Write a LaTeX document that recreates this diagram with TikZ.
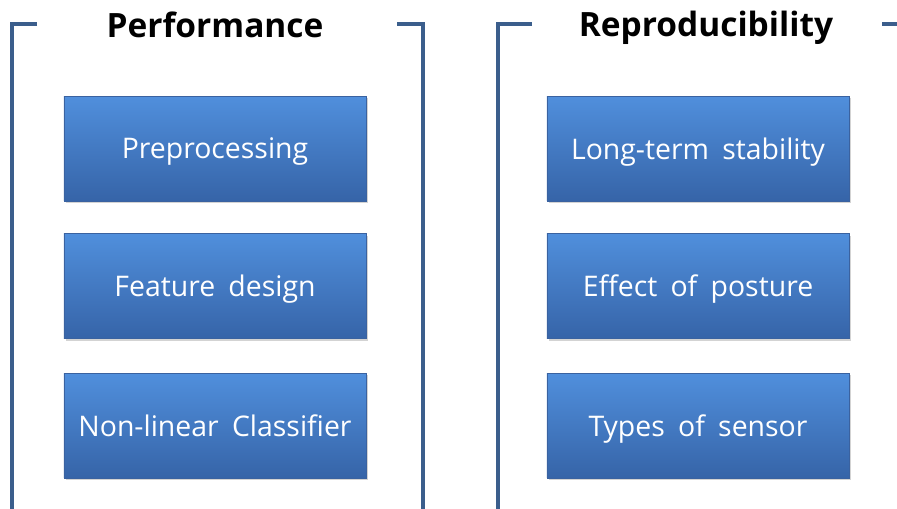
\documentclass[tikz,border=0pt]{standalone}
\usepackage{fontspec}
\setmainfont{Open Sans}[WordSpace=1.8]
\usepackage{tikz}
\usetikzlibrary{positioning,shadows}

\definecolor{bracketblue}{RGB}{59,94,140}
\definecolor{boxtop}{RGB}{80,143,220}
\definecolor{boxbottom}{RGB}{54,100,168}
\definecolor{boxedge}{RGB}{58,98,160}

\begin{document}
\begin{tikzpicture}[x=0.025cm, y=-0.025cm,
		bracket/.style={line width=2.8pt, bracketblue},
		heading/.style={font=\fontsize{23.8}{28}\selectfont\bfseries, text=black},
		item/.style={minimum width=7.55cm, minimum height=2.62cm, inner sep=0pt,
			top color=boxtop, bottom color=boxbottom, draw=boxedge, line width=0.5pt,
			drop shadow={shadow xshift=1.2pt, shadow yshift=-1.6pt, opacity=0.35},
			text=white, text depth=0pt, font=\fontsize{20.2}{24}\selectfont}]
		\useasboundingbox (0, 0) rectangle (897, 508);

		% 括号
		\draw[bracket] (37, 24) -- (12, 24) -- (12, 512);
		\draw[bracket] (397, 24) -- (423, 24) -- (423, 512);
		\draw[bracket] (532, 24) -- (498, 24) -- (498, 512);
		\draw[bracket] (882, 24) -- (900, 24);

		% 标题
		\node[heading] (perf) at (215, 25) {Performance};
		\node[heading] (repro) at (706, 28) {Reproducibility};

		% 左列
		\node[item] (prep) at (215, 148.5) {Preprocessing};
		\node[item, below=0.8cm of prep] (feat) {Feature design};
		\node[item, below=0.85cm of feat] (clf) {Non-linear Classifier};

		% 右列
		\node[item] (stab) at (698, 148.5) {Long-term stability};
		\node[item, below=0.8cm of stab] (post) {Effect of posture};
		\node[item, below=0.85cm of post] (sens) {Types of sensor};
	\end{tikzpicture}
\end{document}
